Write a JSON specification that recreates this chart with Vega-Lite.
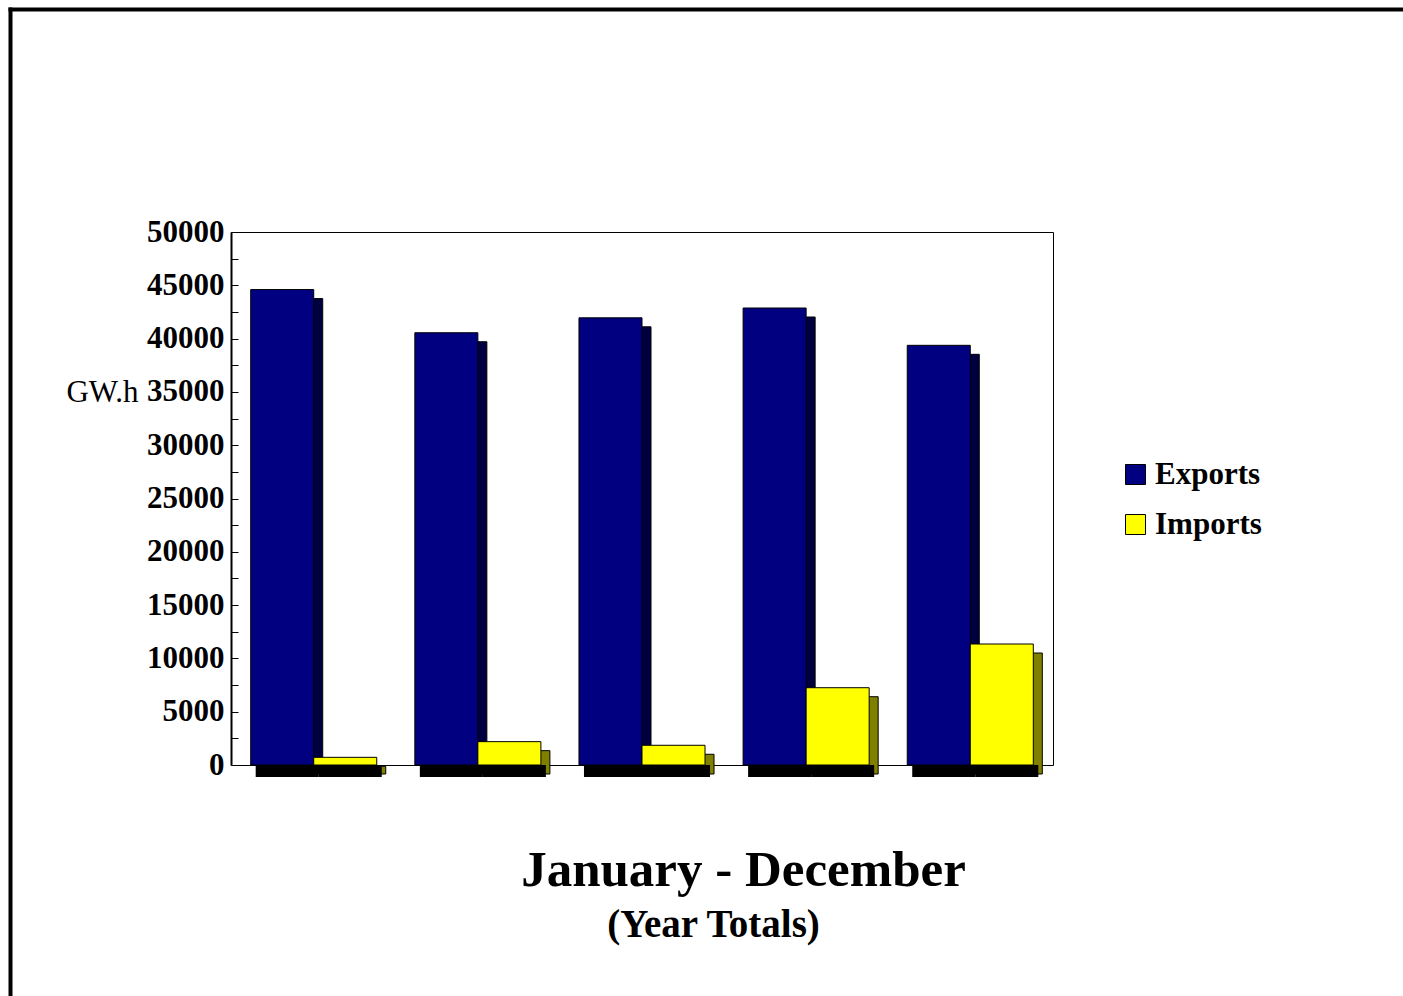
{
  "$schema": "https://vega.github.io/schema/vega-lite/v6.json",
  "autosize": {"type": "none"},
  "padding": {"left": 231, "top": 232, "right": 350, "bottom": 231},
  "width": 822,
  "height": 533,
  "background": "white",
  "config": {
    "font": "Liberation Serif",
    "view": {"stroke": "black", "strokeWidth": 1},
    "axis": {"grid": false}
  },
  "data": {
    "values": [
      {"period": "1", "series": "Exports", "value": 44600},
      {"period": "1", "series": "Imports", "value": 720},
      {"period": "2", "series": "Exports", "value": 40550},
      {"period": "2", "series": "Imports", "value": 2190},
      {"period": "3", "series": "Exports", "value": 41950},
      {"period": "3", "series": "Imports", "value": 1850},
      {"period": "4", "series": "Exports", "value": 42870},
      {"period": "4", "series": "Imports", "value": 7250},
      {"period": "5", "series": "Exports", "value": 39370},
      {"period": "5", "series": "Imports", "value": 11350}
    ]
  },
  "layer": [
    {
      "mark": {"type": "point", "opacity": 0},
      "encoding": {
        "x": {
          "field": "period", "type": "nominal",
          "scale": {"type": "point", "range": [-223, 1172]},
          "axis": {
            "orient": "top", "offset": 223, "domainColor": "black", "domainWidth": 4,
            "ticks": false, "labels": false, "grid": false,
            "title": "(Year Totals)", "titleFontSize": 39, "titleFontWeight": "bold",
            "titleColor": "black", "titleAlign": "center", "titleBaseline": "alphabetic",
            "titleAngle": 0, "titleX": 482, "titleY": 927
          }
        },
        "y": {
          "field": "value", "type": "quantitative",
          "scale": {"range": [800, -225]},
          "axis": {
            "orient": "left", "offset": 221, "domainColor": "black", "domainWidth": 4,
            "ticks": false, "labels": false, "grid": false, "title": null
          }
        }
      }
    },
    {
      "mark": {"type": "bar", "yOffset": 9, "stroke": "black", "strokeWidth": 1},
      "encoding": {
        "x": {
          "field": "period", "type": "nominal",
          "scale": {"paddingInner": 0.232, "paddingOuter": 0.12, "range": [9, 831]},
          "axis": null
        },
        "xOffset": {"field": "series", "type": "nominal", "scale": {"domain": ["Exports", "Imports"]}},
        "y": {
          "field": "value", "type": "quantitative",
          "scale": {"domain": [0, 50000], "nice": false},
          "axis": null
        },
        "color": {
          "condition": {"test": "datum.series === 'Exports'", "value": "#000040"},
          "value": "#808000"
        }
      }
    },
    {
      "mark": {"type": "bar", "color": "black", "y2Offset": 12},
      "encoding": {
        "x": {
          "field": "period", "type": "nominal",
          "scale": {"paddingInner": 0.232, "paddingOuter": 0.12, "range": [5, 827]},
          "axis": null
        },
        "xOffset": {"field": "series", "type": "nominal", "scale": {"domain": ["Exports", "Imports"]}},
        "y": {
          "datum": 0, "type": "quantitative",
          "scale": {"domain": [0, 50000], "nice": false},
          "axis": null
        },
        "y2": {"datum": 0}
      }
    },
    {
      "mark": {"type": "bar", "stroke": "black", "strokeWidth": 1},
      "encoding": {
        "x": {
          "field": "period", "type": "nominal",
          "scale": {"paddingInner": 0.232, "paddingOuter": 0.12},
          "axis": {
            "orient": "bottom", "domain": false, "ticks": false, "labels": false,
            "title": "January - December", "titleFontSize": 51, "titleFontWeight": "bold",
            "titleColor": "black", "titleAlign": "center", "titleBaseline": "alphabetic",
            "titleAngle": 0, "titleX": 512, "titleY": 120
          }
        },
        "xOffset": {"field": "series", "type": "nominal", "scale": {"domain": ["Exports", "Imports"]}},
        "y": {
          "field": "value", "type": "quantitative",
          "scale": {"domain": [0, 50000], "nice": false},
          "axis": {
            "orient": "left",
            "values": [0, 2500, 5000, 7500, 10000, 12500, 15000, 17500, 20000, 22500, 25000, 27500, 30000, 32500, 35000, 37500, 40000, 42500, 45000, 47500, 50000],
            "format": "d",
            "labelExpr": "datum.value % 5000 === 0 ? datum.label : ''",
            "labelOverlap": false,
            "labelFontSize": 31, "labelFontWeight": "bold", "labelColor": "black",
            "labelPadding": 14,
            "tickSize": -7, "tickColor": "black", "tickWidth": 1,
            "domainColor": "black", "domainWidth": 2,
            "title": "GW.h", "titleAngle": 0, "titleFontSize": 31, "titleFontWeight": "normal",
            "titleColor": "black", "titleAlign": "right", "titleBaseline": "middle",
            "titleX": -93, "titleY": 160
          }
        },
        "color": {
          "field": "series", "type": "nominal",
          "scale": {"domain": ["Exports", "Imports"], "range": ["#000080", "#FFFF00"]},
          "legend": {
            "orient": "none", "legendX": 889, "legendY": 227, "title": null,
            "symbolType": "square", "symbolSize": 400, "symbolStrokeColor": "black",
            "symbolStrokeWidth": 1, "symbolOpacity": 1,
            "labelFontSize": 31, "labelFontWeight": "bold", "labelColor": "black",
            "labelOffset": 4, "rowPadding": 18, "padding": 0
          }
        }
      }
    }
  ],
  "resolve": {
    "scale": {"x": "independent", "y": "independent", "xOffset": "independent"},
    "axis": {"x": "independent", "y": "independent"}
  }
}
